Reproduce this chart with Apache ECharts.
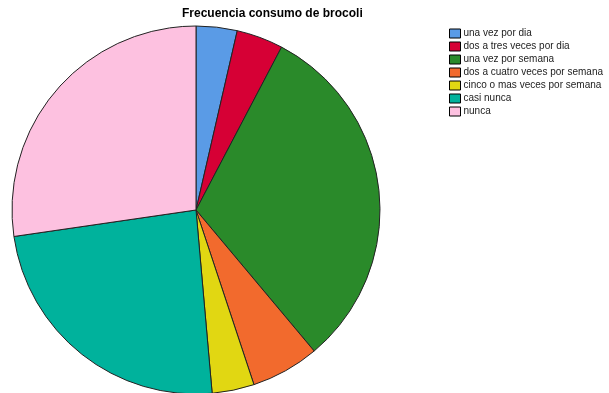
<!DOCTYPE html>
<html>
<head>
<meta charset="utf-8">
<script src="https://cdn.jsdelivr.net/npm/echarts@6/dist/echarts.min.js"></script>
<style>html,body{margin:0;padding:0;background:#fff;}#c{width:609px;height:393px;}</style>
</head>
<body>
<div id="c"></div>
<script>
const categories = ['una vez por dia','dos a tres veces por dia','una vez por semana','dos a cuatro veces por semana','cinco o mas veces por semana','casi nunca','nunca'];
const values = [3.6, 4.1, 31.2, 6.0, 3.7, 24.1, 27.3];
const colors = ['#5a9be6','#d60035','#2a8a2a','#f26a2d','#e1d712','#00b29c','#fdc1e0'];
const titleText = 'Frecuencia consumo de brocoli';

const chart = echarts.init(document.getElementById('c'), null, {renderer:'canvas'});
chart.setOption({
  animation:false,
  title:{text:titleText,left:177,top:3,textStyle:{fontFamily:'Liberation Sans, Arial',fontSize:12,fontWeight:'bold',color:'#000'}},
  legend:{orient:'vertical',left:444,top:23,itemWidth:11,itemHeight:9,itemGap:2,icon:'rect',
    itemStyle:{borderColor:'#000',borderWidth:1},
    textStyle:{fontFamily:'Liberation Sans, Arial',fontSize:10,color:'#222',padding:[0,0,0,-2],lineHeight:11},
    data:categories},
  series:[{type:'pie',center:[196,210],radius:184,startAngle:90,clockwise:true,
    label:{show:false},labelLine:{show:false},
    itemStyle:{borderColor:'#222',borderWidth:1},
    emphasis:{disabled:true},
    data:categories.map((n,i)=>({name:n,value:values[i],itemStyle:{color:colors[i]}}))}]
});
</script>
</body>
</html>
